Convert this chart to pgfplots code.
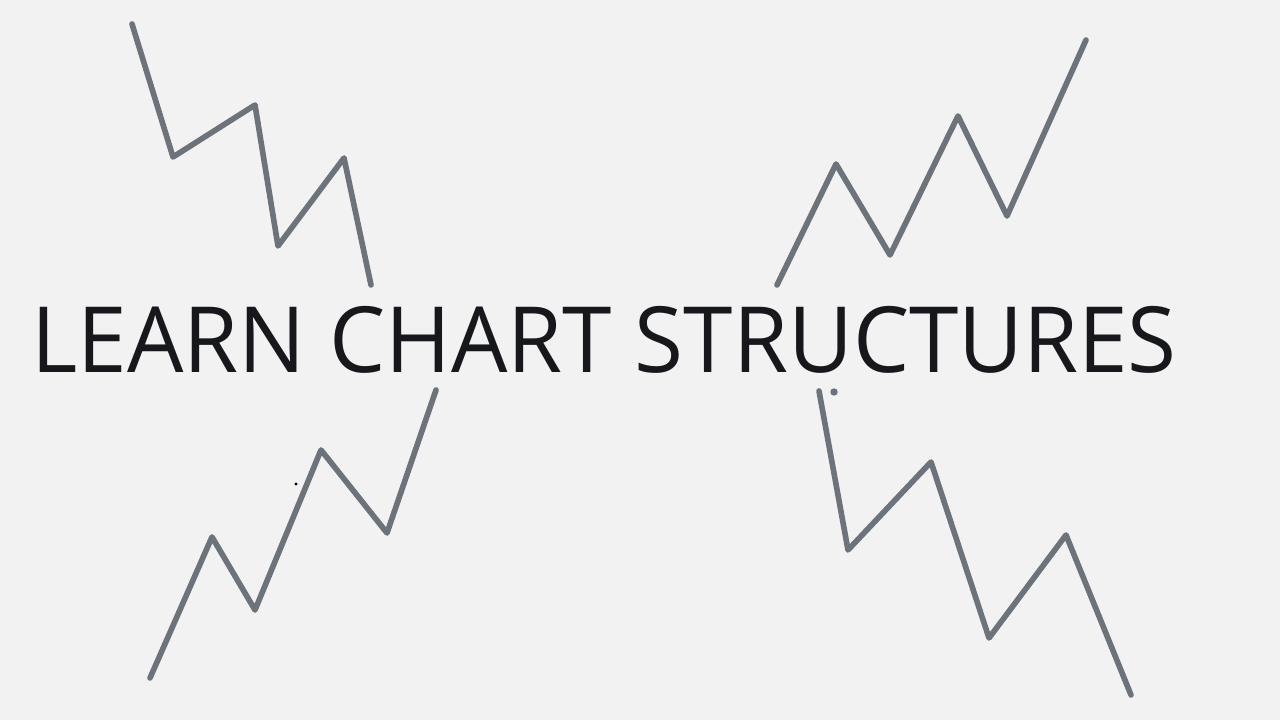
\documentclass[border=0pt]{standalone}
\usepackage{pgfplots}
\pgfplotsset{compat=1.18}
\usepackage{fontspec}
\setmainfont{Open Sans}
\definecolor{bg}{HTML}{F2F2F2}
\definecolor{zig}{HTML}{6D737A}
\definecolor{ink}{HTML}{17181B}
\begin{document}
\begin{tikzpicture}
\begin{axis}[
  width=16cm, height=9cm, scale only axis,
  xmin=0, xmax=1280, ymin=0, ymax=720, y dir=reverse,
  axis lines=none, ticks=none, clip=true,
]
\fill[bg] (rel axis cs:0,0) rectangle (rel axis cs:1,1);
% zigzags, in picture pixels (y downwards)
\addplot[zig, line width=2pt, line cap=round, line join=round] coordinates
  {(132,24) (173,157) (255,105) (278,246) (344,158) (371,285)};
\addplot[zig, line width=2pt, line cap=round, line join=round] coordinates
  {(777,285) (836,164) (890,255) (958,116) (1007,216) (1086,40)};
\addplot[zig, line width=2pt, line cap=round, line join=round] coordinates
  {(150,678) (212,537) (255,610) (321,450) (387,533) (436,390)};
\addplot[zig, line width=2pt, line cap=round, line join=round] coordinates
  {(819,391) (848,550) (931,462) (989,638) (1066,535) (1131,695)};
\addplot[only marks, mark=*, mark size=1.1pt, zig] coordinates {(834,392)};
\addplot[only marks, mark=*, mark size=0.3pt, black] coordinates {(296,484)};
\node[ink, anchor=base west, inner sep=0pt, xscale=0.975,
  font=\fontsize{32.5}{40}\selectfont]
  at (axis cs:31,373) {LEARN CHART STRUCTURES};
\end{axis}
\end{tikzpicture}
\end{document}
